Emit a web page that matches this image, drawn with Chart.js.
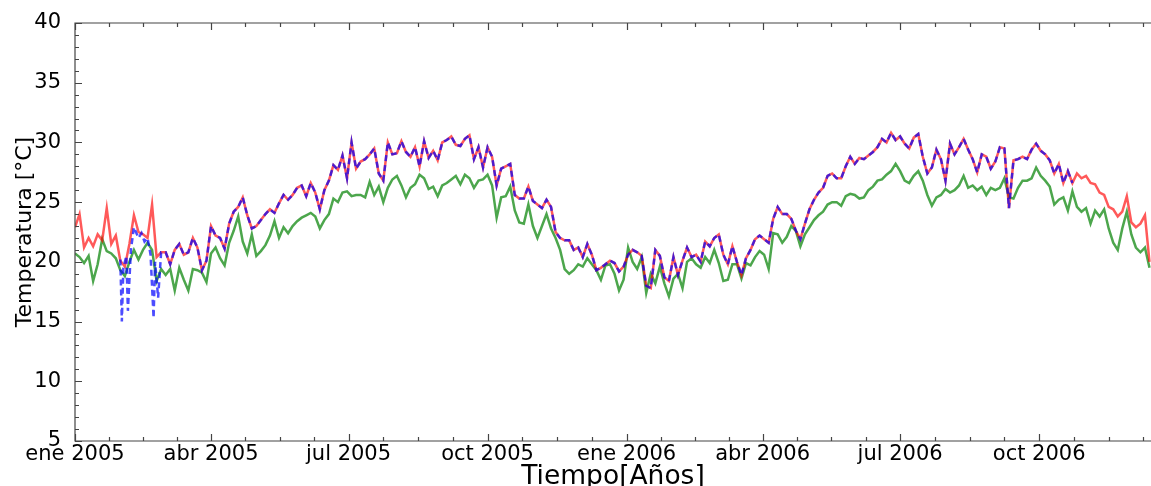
<!DOCTYPE html>
<html>
<head>
<meta charset="utf-8">
<script src="https://cdn.jsdelivr.net/npm/chart.js@4.4.1/dist/chart.umd.min.js"></script>
<style>
  html, body { margin: 0; padding: 0; background: #fff; overflow: hidden; }
  #chart { display: block; }
</style>
</head>
<body>
<canvas id="chart" width="1151" height="486"></canvas>
<script>
// one value every STEP days, starting 1 jan 2005
const STEP = 3
const xTickDays = [0, 90, 181, 273, 365, 455, 546, 638]
const xTickLabels = ['ene 2005', 'abr 2005', 'jul 2005', 'oct 2005', 'ene 2006', 'abr 2006', 'jul 2006', 'oct 2006']
const yTicks = [5, 10, 15, 20, 25, 30, 35, 40]

// red solid line
const redTemps = [
  22.9, 24.0, 21.2, 22.0, 21.3, 22.3, 21.8, 24.5, 21.5, 22.2,
  20.1, 19.6, 21.5, 23.9, 22.5, 22.3, 22.0, 24.8, 20.4, 20.8,
  20.8, 19.8, 21.0, 21.5, 20.6, 20.8, 22.0, 21.2, 19.3, 20.1,
  23.0, 22.2, 22.0, 21.1, 23.2, 24.2, 24.6, 25.4, 23.9, 22.8,
  23.0, 23.5, 24.0, 24.4, 24.1, 24.9, 25.6, 25.2, 25.6, 26.2,
  26.4, 25.5, 26.6, 25.8, 24.4, 26.0, 26.8, 28.1, 27.7, 28.9,
  27.0, 30.0, 27.8, 28.4, 28.6, 29.0, 29.5, 27.4, 26.8, 30.0,
  29.0, 29.1, 30.1, 29.2, 28.8, 29.6, 28.0, 30.1, 28.7, 29.3,
  28.5, 30.0, 30.2, 30.5, 29.8, 29.7, 30.3, 30.6, 28.6, 29.6,
  27.9, 29.6, 28.8, 26.4, 27.8, 28.0, 28.2, 25.6, 25.3, 25.3,
  26.3, 25.1, 24.8, 24.5, 25.2, 24.6, 22.5, 22.0, 21.8, 21.8,
  21.0, 21.2, 20.4, 21.5, 20.6, 19.3, 19.5, 19.8, 20.1, 19.9,
  19.2, 19.6, 20.6, 21.0, 20.8, 20.5, 18.0, 17.8, 21.0, 20.5,
  18.7, 18.4, 20.4, 18.9, 20.1, 21.2, 20.4, 20.6, 20.0, 21.7,
  21.3, 22.0, 22.3, 20.6, 19.8, 21.3, 20.0, 18.9, 20.3, 21.0,
  21.9, 22.2, 21.9, 21.6, 23.6, 24.6, 24.0, 24.0, 23.6, 22.6,
  21.9, 23.2, 24.4, 25.2, 25.8, 26.2, 27.2, 27.4, 27.0, 27.0,
  28.0, 28.8, 28.2, 28.7, 28.6, 28.9, 29.2, 29.6, 30.3, 30.0,
  30.8, 30.2, 30.5, 29.9, 29.5, 30.4, 30.7, 28.8, 27.4, 27.9,
  29.4, 28.6, 26.8, 29.9, 29.0, 29.6, 30.3, 29.4, 28.6, 27.5,
  29.0, 28.8, 27.8, 28.4, 29.6, 29.5, 24.5, 28.5, 28.6, 28.8,
  28.6, 29.4, 29.9, 29.3, 29.0, 28.5, 27.4, 28.2, 26.6, 27.6,
  26.6, 27.4, 27.0, 27.2, 26.6, 26.5, 25.8, 25.6, 24.6, 24.4,
  23.8, 24.2, 25.5, 23.3, 22.9, 23.2, 23.9, 20.0
]

// green solid line
const greenTemps = [
  20.7, 20.4, 19.9, 20.5, 18.4, 19.8, 21.9, 20.9, 20.7, 20.3,
  19.3, 18.8, 20.0, 21.0, 20.2, 21.0, 21.6, 21.0, 18.4, 19.4,
  18.9, 19.4, 17.6, 19.5, 18.5, 17.6, 19.4, 19.3, 19.1, 18.3,
  20.7, 21.2, 20.3, 19.7, 21.6, 22.6, 23.8, 21.7, 20.7, 22.3,
  20.5, 20.9, 21.4, 22.2, 23.4, 22.0, 22.9, 22.4, 23.0, 23.4,
  23.7, 23.9, 24.1, 23.8, 22.8, 23.5, 24.0, 25.3, 25.0, 25.8,
  25.9, 25.5, 25.6, 25.6, 25.4, 26.7, 25.6, 26.3, 25.0, 26.2,
  26.9, 27.2, 26.4, 25.4, 26.2, 26.5, 27.3, 27.0, 26.1, 26.3,
  25.5, 26.4, 26.6, 26.9, 27.2, 26.5, 27.3, 27.0, 26.2, 26.8,
  26.9, 27.3, 26.4, 23.7, 25.4, 25.5, 26.3, 24.3, 23.3, 23.2,
  24.8, 23.0, 22.0, 23.0, 24.0, 22.8, 22.0, 21.0, 19.4, 19.0,
  19.3, 19.8, 19.6, 20.3, 19.8, 19.3, 18.5, 19.7, 19.8, 19.0,
  17.6, 18.5, 21.2, 20.0, 19.4, 20.4, 17.4, 19.0, 18.2, 19.6,
  18.2, 17.1, 18.6, 19.0, 17.8, 20.0, 20.3, 19.8, 19.5, 20.4,
  19.9, 21.0, 19.9, 18.4, 18.5, 19.8, 19.8, 18.6, 19.9, 19.7,
  20.4, 20.9, 20.6, 19.4, 22.4, 22.3, 21.6, 22.1, 23.0, 22.6,
  21.3, 22.3, 22.9, 23.5, 23.9, 24.2, 24.8, 25.0, 25.0, 24.7,
  25.5, 25.7, 25.6, 25.3, 25.4, 26.0, 26.3, 26.8, 26.9, 27.3,
  27.6, 28.2, 27.6, 26.8, 26.6, 27.2, 27.6, 26.8, 25.6, 24.7,
  25.4, 25.6, 26.1, 25.8, 26.0, 26.4, 27.2, 26.2, 26.4, 26.0,
  26.3, 25.6, 26.2, 26.0, 26.2, 27.0, 25.4, 25.3, 26.2, 26.8,
  26.8, 27.0, 27.9, 27.2, 26.8, 26.3, 24.8, 25.2, 25.4, 24.3,
  25.9, 24.6, 24.2, 24.5, 23.2, 24.3, 23.8, 24.4, 22.8, 21.6,
  21.0, 22.8, 24.2, 22.3, 21.2, 20.8, 21.2, 19.5
]

// blue dashed line: its own daily values in late jan / feb 2005 (with the drops),
// after that it lies on top of the red line until early nov 2006
const blueEarlyDays = [30, 31, 32, 34, 35, 37, 39, 42, 44, 46, 48, 50, 52, 53, 55]
const blueEarlyTemps = [20.2, 15.0, 19.5, 20.5, 15.9, 21.0, 22.9, 22.0, 22.4, 21.7, 22.0, 20.6, 15.3, 20.0, 17.0]
const blueFirst = 19   // index in redTemps where blue joins red
const blueLast = 220

const toPoints = (vals, start = 0) => vals.map((v, i) => ({ x: (start + i) * STEP, y: v }))

const bluePoints = blueEarlyDays.map((d, i) => ({ x: d, y: blueEarlyTemps[i] }))
  .concat(toPoints(redTemps.slice(blueFirst, blueLast + 1), blueFirst))

const FONT = '"DejaVu Sans", sans-serif'

// matplotlib style frame with ticks pointing inwards (right side is cut off)
const framePlugin = {
  id: 'frame',
  afterDraw(chart) {
    const { ctx, chartArea: a, scales } = chart
    const x = scales.x, y = scales.y
    ctx.save()
    ctx.strokeStyle = '#444'
    ctx.lineWidth = 1.2
    ctx.beginPath()
    ctx.moveTo(a.right + 1, a.top); ctx.lineTo(a.left, a.top)
    ctx.lineTo(a.left, a.bottom); ctx.lineTo(a.right + 1, a.bottom)
    for (let v = 5; v <= 40; v++) {
      const py = Math.round(y.getPixelForValue(v)) + 0.5
      const len = v % 5 === 0 ? 7 : 4
      ctx.moveTo(a.left, py); ctx.lineTo(a.left + len, py)
    }
    for (let i = 0; i < xTickDays.length; i++) {
      const d0 = xTickDays[i]
      const d1 = i + 1 < xTickDays.length ? xTickDays[i + 1] : d0 + 92
      for (let k = 0; k < 4; k++) {
        const d = d0 + (d1 - d0) * k / 4
        if (d > x.max) break
        const px = Math.round(x.getPixelForValue(d)) + 0.5
        const len = k === 0 ? 7 : 4
        ctx.moveTo(px, a.bottom); ctx.lineTo(px, a.bottom - len)
        ctx.moveTo(px, a.top); ctx.lineTo(px, a.top + len)
      }
    }
    ctx.stroke()
    ctx.restore()
  }
}

const line = (label, points, color, dash) => ({
  label: label,
  data: points,
  borderColor: color,
  borderWidth: 2.5,
  borderDash: dash || [],
  pointRadius: 0,
  tension: 0,
  fill: false
})

new Chart(document.getElementById('chart'), {
  type: 'line',
  data: {
    datasets: [
      line('azul', bluePoints, 'rgba(0, 0, 255, 0.7)', [6, 4]),
      line('rojo', toPoints(redTemps), 'rgba(255, 0, 0, 0.65)'),
      line('verde', toPoints(greenTemps), 'rgba(0, 128, 0, 0.7)')
    ]
  },
  options: {
    responsive: false,
    animation: false,
    devicePixelRatio: 1,
    layout: { padding: { top: 23, right: 0, left: 0, bottom: 0 } },
    plugins: { legend: { display: false }, tooltip: { enabled: false } },
    scales: {
      x: {
        type: 'linear',
        min: 0,
        max: 712,
        grid: { display: false, drawTicks: false },
        border: { display: false },
        afterBuildTicks: scale => { scale.ticks = xTickDays.map(v => ({ value: v })) },
        afterFit: scale => { scale.height = 45 },
        ticks: {
          autoSkip: false,
          maxRotation: 0,
          padding: 1,
          color: '#000',
          font: { family: FONT, size: 21 },
          callback: (v, i) => xTickLabels[i]
        },
        title: {
          display: true,
          text: 'Tiempo[Años]',
          color: '#000',
          font: { family: FONT, size: 26.5, lineHeight: 1 },
          padding: { top: 0, bottom: -4 }
        }
      },
      y: {
        min: 5,
        max: 40,
        grid: { display: false },
        border: { display: false },
        afterBuildTicks: scale => { scale.ticks = yTicks.map(v => ({ value: v })) },
        afterFit: scale => { scale.width = 75 },
        ticks: {
          padding: 6,
          color: '#000',
          font: { family: FONT, size: 21 }
        },
        title: {
          display: true,
          text: 'Temperatura [°C]',
          color: '#000',
          font: { family: FONT, size: 22 },
          padding: { top: 12, bottom: 0 }
        }
      }
    }
  },
  plugins: [framePlugin]
})
</script>
</body>
</html>
